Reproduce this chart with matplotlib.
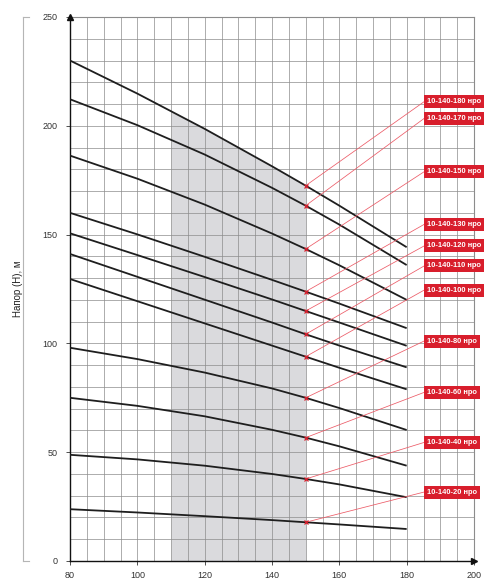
import numpy as np
import matplotlib
matplotlib.use("Agg")
import matplotlib.pyplot as plt
from matplotlib.lines import Line2D

plt.rcParams['font.family'] = ['Liberation Sans', 'DejaVu Sans']

# flow values (x) at which curves were read
flow = [80, 100, 120, 140, 150, 160, 180]

# head curves (m)
h_180 = [230, 214.8, 198.6, 181.4, 172.5, 163.3, 144.2]
h_170 = [212.2, 200.3, 186.8, 171.5, 163.3, 154.6, 136]
h_150 = [186.3, 175.7, 163.8, 150.5, 143.4, 135.9, 120]
h_130 = [160, 150.1, 139.8, 129.2, 123.8, 118.3, 107]
h_120 = [150.6, 140.6, 130.5, 120.2, 114.9, 109.6, 98.9]
h_110 = [141.1, 130.6, 120.1, 109.6, 104.2, 99.0, 89]
h_100 = [129.6, 119.4, 109.2, 99.0, 93.9, 88.8, 78.9]
h_80 = [98, 92.8, 86.6, 79.3, 75, 70.3, 60.2]
h_60 = [75, 71.3, 66.5, 60.3, 56.7, 52.7, 43.8]
h_40 = [48.8, 46.7, 43.8, 40.0, 37.7, 35.2, 29.3]
h_20 = [23.8, 22.3, 20.6, 18.8, 17.8, 16.8, 14.7]

curves = [h_180, h_170, h_150, h_130, h_120, h_110, h_100, h_80, h_60, h_40, h_20]
labels = ["10-140-180 нро", "10-140-170 нро", "10-140-150 нро", "10-140-130 нро",
          "10-140-120 нро", "10-140-110 нро", "10-140-100 нро", "10-140-80 нро",
          "10-140-60 нро", "10-140-40 нро", "10-140-20 нро"]
label_y = [211.1, 203.4, 178.9, 154.7, 144.8, 135.6, 124.5, 101.1, 77.5, 54.5, 31.7]

# working range (shaded)
work_lo, work_hi = 110, 150
mark_x = 150

x_ticks = [80, 100, 120, 140, 160, 180, 200]
y_ticks = [0, 50, 100, 150, 200, 250]

fig = plt.figure(figsize=(5.02, 5.79), dpi=100)
ax = fig.add_axes([70/502, 18/579, 404/502, 544/579])
ax.set_xlim(80, 200)
ax.set_ylim(0, 250)

# grid
for gx in np.arange(85, 201, 5):
    ax.axvline(gx, color='#8c8c8c', lw=0.5, zorder=1)
for gy in np.arange(10, 251, 10):
    ax.axhline(gy, color='#8c8c8c', lw=0.5, zorder=1)

# shaded working range under top curve
xs = np.array([work_lo] + [f for f in flow if work_lo < f < work_hi] + [work_hi], dtype=float)
ys = np.interp(xs, flow, h_180)
ax.fill_between(xs, 0, ys, color='#dadadd', lw=0, zorder=0.5)

red = '#d81e2c'
label_x = 186.0
for h, lab, ly in zip(curves, labels, label_y):
    ax.plot(flow, h, color='#1e1e1e', lw=1.3, zorder=3, solid_capstyle='butt')
    hy = np.interp(mark_x, flow, h)
    ax.plot([mark_x, label_x - 0.8], [hy, ly], color='#ec5a66', lw=0.55, zorder=4, clip_on=False)
    ax.plot([mark_x], [hy], marker='x', color=red, ms=2.3, mew=0.9, zorder=5)
    ax.text(label_x, ly, lab, color='white', fontsize=5.4, fontweight='bold',
            ha='left', va='center', zorder=6, clip_on=False,
            bbox=dict(boxstyle='square,pad=0.4', fc=red, ec='none'))

# spines
for s in ['top', 'right']:
    ax.spines[s].set_color('#8c8c8c')
    ax.spines[s].set_linewidth(0.8)
for s in ['left', 'bottom']:
    ax.spines[s].set_color('#111111')
    ax.spines[s].set_linewidth(1.0)

# arrows on axes
ax.plot([80], [250], marker='^', color='#111111', ms=5, clip_on=False, zorder=7)
ax.plot([200], [0], marker='>', color='#111111', ms=5, clip_on=False, zorder=7)

ax.set_xticks(x_ticks)
ax.set_yticks(y_ticks)
ax.tick_params(axis='both', labelsize=6.5, colors='#333333', length=3, width=0.6, direction='out')
ax.tick_params(axis='y', pad=6)
ax.tick_params(axis='x', pad=4)

ax.set_ylabel("Напор (H), м", fontsize=7, color='#222222', labelpad=14)

# bracket at left
fig.add_artist(Line2D([23/502, 23/502], [18/579, 562/579], color='#b5b5b5', lw=0.8))
fig.add_artist(Line2D([23/502, 29/502], [562/579, 562/579], color='#b5b5b5', lw=0.8))
fig.add_artist(Line2D([23/502, 29/502], [18/579, 18/579], color='#b5b5b5', lw=0.8))

fig.savefig("out.png", dpi=100)
